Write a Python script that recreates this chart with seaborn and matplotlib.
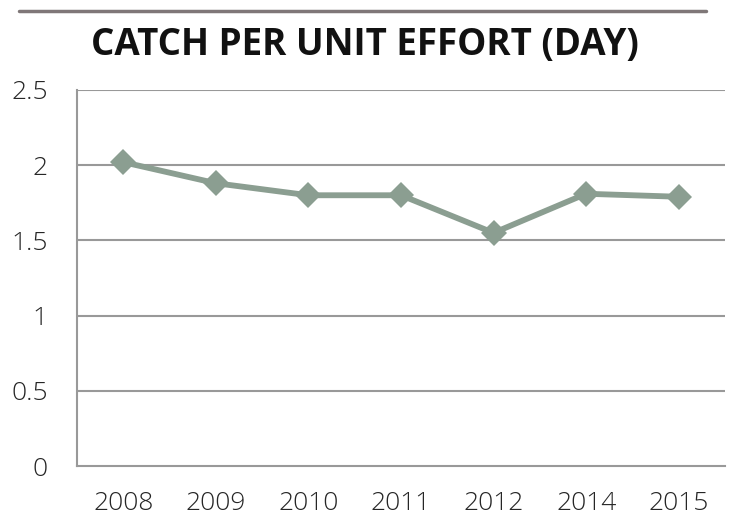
import numpy as np
import pandas as pd
import seaborn as sns
import matplotlib.pyplot as plt

# values
years = ["2008", "2009", "2010", "2011", "2012", "2014", "2015"]
cpue = [2.02, 1.88, 1.80, 1.80, 1.55, 1.81, 1.79]
y_ticks = [0, 0.5, 1, 1.5, 2, 2.5]
y_labels = ["0", "0.5", "1", "1.5", "2", "2.5"]

sns.set_theme(style="white")
plt.rcParams["font.family"] = ["Open Sans", "DejaVu Sans"]

df = pd.DataFrame({"year": years, "cpue": cpue})
grid_col = "#999999"
line_col = "#8b9e91"
label_col = "#262626"

fig = plt.figure(figsize=(7.29, 5.20), dpi=100)
ax = fig.add_axes([0.1056, 0.1038, 0.8889, 0.7232])

x = np.arange(len(years))
sns.lineplot(data=df, x=x, y="cpue", ax=ax, color=line_col, linewidth=4.2,
             marker="D", markersize=13, markeredgewidth=0, zorder=3)

ax.set_xlim(-0.5, len(years) - 0.5)
ax.set_ylim(0, 2.5)
ax.set_yticks(y_ticks)
ax.set_yticklabels(y_labels, fontsize=19, fontweight="light", color=label_col)
ax.set_xticks(x)
ax.set_xticklabels(years, fontsize=19, fontweight="light", color=label_col)
ax.set_xlabel("")
ax.set_ylabel("")

# category boundary ticks on x
ax.set_xticks(np.arange(len(years) + 1) - 0.5, minor=True)
ax.tick_params(axis="x", which="major", length=0, pad=18)
ax.tick_params(axis="x", which="minor", length=8, width=1.5, color=grid_col, direction="out")
ax.tick_params(axis="y", length=8, width=1.5, color=grid_col, direction="out", pad=13)

for yv in y_ticks[1:]:
    ax.axhline(yv, color=grid_col, linewidth=1.5, zorder=1)

for side in ["top", "right"]:
    ax.spines[side].set_visible(False)
for side in ["left", "bottom"]:
    ax.spines[side].set_color(grid_col)
    ax.spines[side].set_linewidth(1.5)

fig.text(0.5, 0.913, "CATCH PER UNIT EFFORT (DAY)", ha="center", va="center",
         fontsize=26.5, fontweight="bold", color="#111111")
fig.add_artist(plt.Line2D([0.026, 0.969], [0.978, 0.978], color="#7f7778", linewidth=2.5))

fig.savefig("out.png", dpi=100)
